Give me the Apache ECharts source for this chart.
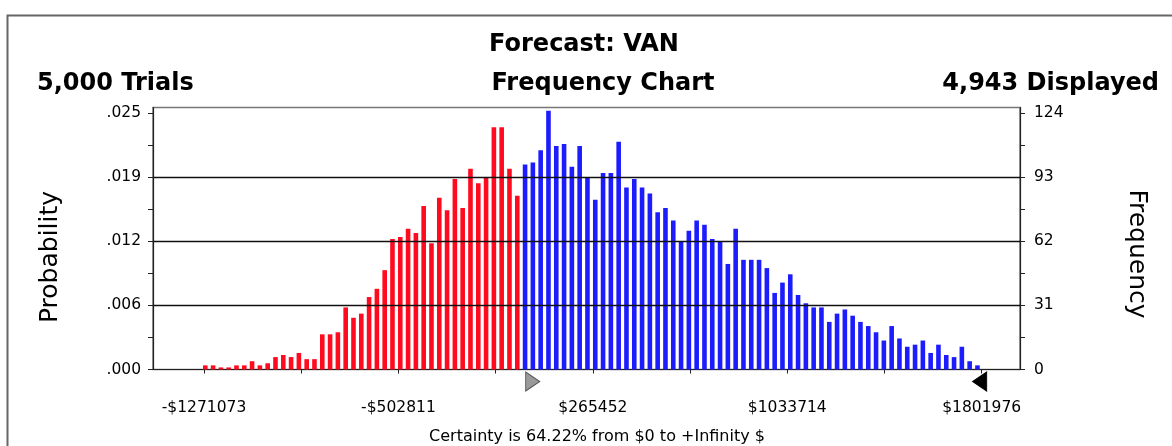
<!DOCTYPE html>
<html>
<head>
<meta charset="utf-8">
<script src="https://cdn.jsdelivr.net/npm/echarts@6/dist/echarts.min.js"></script>
<style>
html,body{margin:0;padding:0;background:#fff;}
#chart{width:1172px;height:446px;}
</style>
</head>
<body>
<div id="chart"></div>
<script>
// ---- data ----
const titleText = 'Forecast: VAN';
const trialsText = '5,000 Trials';
const chartKind = 'Frequency Chart';
const displayedText = '4,943 Displayed';
const certaintyText = 'Certainty is 64.22% from $0 to +Infinity $';
const leftAxisName = 'Probability';
const rightAxisName = 'Frequency';

// histogram bins (100 bins); centre of first bin and bin width in $
const binFirstCenter = -1266000;
const binWidth = 30820;
// frequencies of bins below $0 (red) and at/above $0 (blue)
const redFreq = [2,2,1,1,2,2,4,2,3,6, 7,6,8,5,5,17,17,18,30,25,
                 27,35,39,48,63,64,68,66,79,61, 83,77,92,78,97,90,93,117,117,97, 84];
const blueFreq = [99,100,106,125,108,109,98,108,93,82, 95,95,110,88,92,88,85,76,78,72,
                  62,67,72,70,63,62,51,68,53,53, 53,49,37,42,46,36,32,30,30,23,
                  27,29,26,23,21,18,14,21,15,11, 12,14,8,12,7,6,11,4,2];

// x axis
const xTickValues = [-1271073, -502811, 265452, 1033714, 1801976];
const xTickLabels = ['-$1271073', '-$502811', '$265452', '$1033714', '$1801976'];
const xMin = -1472600, xMax = 1953300;

// y axes
const freqTicks = [0, 31, 62, 93, 124];
const freqLabels = ['0', '31', '62', '93', '124'];
const probLabels = ['.000', '.006', '.012', '.019', '.025'];
const yMax = 126.6;

// certainty range grabbers
const certLow = 0;
const certHigh = 1801976;

// ---- build ----
const redData = redFreq.map((v, i) => [binFirstCenter + i * binWidth, v]);
const blueData = blueFreq.map((v, i) => [binFirstCenter + (i + redFreq.length) * binWidth, v]);

const xMinorTicks = [];
for (let i = 0; i < xTickValues.length; i++) {
  xMinorTicks.push(xTickValues[i]);
  if (i < xTickValues.length - 1) xMinorTicks.push((xTickValues[i] + xTickValues[i + 1]) / 2);
}
const yAllTicks = [];
for (let i = 0; i < freqTicks.length; i++) {
  yAllTicks.push(freqTicks[i]);
  if (i < freqTicks.length - 1) yAllTicks.push((freqTicks[i] + freqTicks[i + 1]) / 2);
}

const FONT = 'DejaVu Sans';
const chart = echarts.init(document.getElementById('chart'), null, {renderer: 'canvas'});

const axisLineStyle = {color: '#222', width: 1.2};
const boldTitle = {fontFamily: FONT, fontWeight: 'bold', fontSize: 24, color: '#000'};

chart.setOption({
  animation: false,
  backgroundColor: '#fff',
  grid: {left: 153, right: 152, top: 107.5, bottom: 76.5, show: true, borderColor: '#777', borderWidth: 1.5, backgroundColor: 'transparent'},
  title: [
    {text: titleText, left: 579, top: 28, textAlign: 'center', textStyle: boldTitle},
    {text: trialsText, left: 32, top: 67, textStyle: boldTitle},
    {text: chartKind, left: 598, top: 67, textAlign: 'center', textStyle: boldTitle},
    {text: displayedText, right: 8, top: 67, textStyle: boldTitle},
    {text: certaintyText, left: 592, top: 424, textAlign: 'center', textStyle: {fontFamily: FONT, fontWeight: 'normal', fontSize: 16, color: '#000'}}
  ],
  graphic: [
    {type: 'rect', left: 5, top: 13, shape: {width: 1190, height: 500}, style: {fill: 'none', stroke: '#666', lineWidth: 2}, silent: true, z: -10},
    {type: 'text', x: 50, y: 257, rotation: Math.PI / 2, style: {text: leftAxisName, fontFamily: FONT, fontSize: 25, fill: '#000', textAlign: 'center', textVerticalAlign: 'middle'}},
    {type: 'text', x: 1136, y: 254, rotation: -Math.PI / 2, style: {text: rightAxisName, fontFamily: FONT, fontSize: 25, fill: '#000', textAlign: 'center', textVerticalAlign: 'middle'}}
  ],
  xAxis: {
    type: 'value', min: xMin, max: xMax,
    axisLine: {show: true, onZero: false, lineStyle: axisLineStyle},
    axisTick: {show: true, length: 4, customValues: xMinorTicks, lineStyle: {color: '#222'}},
    axisLabel: {
      customValues: xTickValues, margin: 30, fontFamily: FONT, fontSize: 15.5, color: '#000',
      formatter: v => { const i = xTickValues.indexOf(v); return i >= 0 ? xTickLabels[i] : ''; }
    },
    splitLine: {show: false}
  },
  yAxis: [
    {
      type: 'value', min: 0, max: yMax, position: 'left',
      axisLine: {show: true, onZero: false, lineStyle: axisLineStyle},
      axisTick: {show: true, length: 5, customValues: yAllTicks, lineStyle: {color: '#222'}},
      axisLabel: {
        customValues: freqTicks, margin: 12, fontFamily: FONT, fontSize: 15.5, color: '#000',
        formatter: v => { const i = freqTicks.indexOf(v); return i >= 0 ? probLabels[i] : ''; }
      },
      splitLine: {show: false}
    },
    {
      type: 'value', min: 0, max: yMax, position: 'right',
      axisLine: {show: true, onZero: false, lineStyle: axisLineStyle},
      axisTick: {show: true, length: 5, customValues: yAllTicks, lineStyle: {color: '#222'}},
      axisLabel: {
        customValues: freqTicks, margin: 14, fontFamily: FONT, fontSize: 15.5, color: '#000',
        formatter: v => { const i = freqTicks.indexOf(v); return i >= 0 ? freqLabels[i] : ''; }
      },
      splitLine: {show: false}
    }
  ],
  series: [
    {
      name: 'below', type: 'bar', data: redData, barWidth: 4.6, barGap: '-100%',
      itemStyle: {color: '#ff0a1e'},
      markLine: {
        silent: true, symbol: ['none', 'none'], label: {show: false},
        lineStyle: {color: '#111', width: 1.4, type: 'solid'},
        data: [{yAxis: freqTicks[1]}, {yAxis: freqTicks[2]}, {yAxis: freqTicks[3]}]
      },
      z: 2
    },
    {
      name: 'above', type: 'bar', data: blueData, barWidth: 4.6, barGap: '-100%',
      itemStyle: {color: '#1c1cff'},
      markPoint: {
        silent: true, label: {show: false},
        data: [
          {coord: [certLow, 0], symbol: 'path://M0,0 L12,9 L0,18 Z', symbolSize: [14, 19], symbolOffset: [7, 12],
           itemStyle: {color: '#9a9a9a', borderColor: '#555', borderWidth: 1}},
          {coord: [certHigh, 0], symbol: 'path://M12,0 L0,9 L12,18 Z', symbolSize: [14, 19], symbolOffset: [-2, 12],
           itemStyle: {color: '#000', borderColor: '#000', borderWidth: 1}}
        ]
      },
      z: 2
    }
  ]
});
</script>
</body>
</html>
